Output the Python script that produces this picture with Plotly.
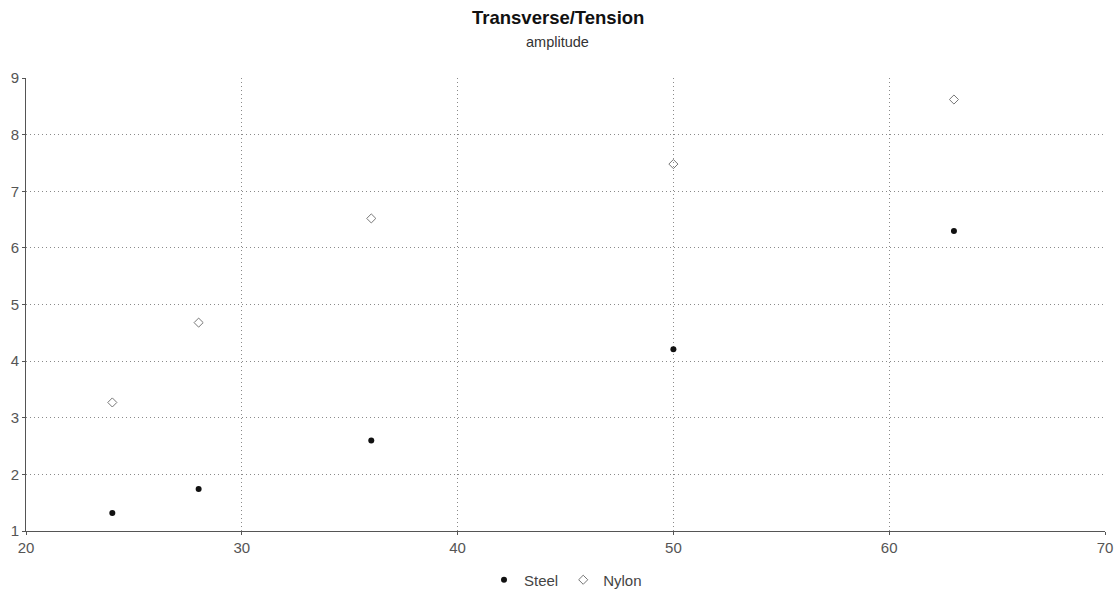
import plotly.graph_objects as go

# Tension values (x) and measured amplitude for each string type
tension = [24, 28, 36, 50, 63]
steel_amplitude = [1.32, 1.74, 2.60, 4.21, 6.30]
nylon_amplitude = [3.27, 4.68, 6.52, 7.48, 8.62]

x_ticks = [20, 30, 40, 50, 60, 70]
y_ticks = [1, 2, 3, 4, 5, 6, 7, 8, 9]

font_family = "Liberation Sans, Arial, sans-serif"

fig = go.Figure()
fig.add_trace(go.Scatter(
    x=tension, y=steel_amplitude, mode="markers", name="Steel",
    marker=dict(symbol="circle", size=6, color="#111111"),
))
fig.add_trace(go.Scatter(
    x=tension, y=nylon_amplitude, mode="markers", name="Nylon",
    marker=dict(symbol="diamond-open", size=7, color="#777777",
                line=dict(width=1, color="#777777")),
))

axis_common = dict(
    showgrid=True, gridcolor="#8a8a8a", griddash="1px,3px", gridwidth=1,
    zeroline=False, showline=True, linecolor="#555555", linewidth=1,
    ticks="outside", ticklen=3, tickcolor="#555555", automargin=False,
    tickfont=dict(family=font_family, size=15, color="#555555"),
)

fig.update_layout(
    width=1114, height=591,
    paper_bgcolor="white", plot_bgcolor="white",
    margin=dict(l=26, r=9, t=78, b=60),
    xaxis=dict(range=[20, 70], tickvals=x_ticks, **axis_common),
    yaxis=dict(range=[1, 9], tickvals=y_ticks, **axis_common),
    showlegend=True,
    legend=dict(orientation="h", x=0.5, xanchor="center",
                yref="container", y=0.0186, yanchor="middle",
                font=dict(family=font_family, size=15, color="#444444")),
    annotations=[
        dict(text="<b>Transverse/Tension</b>", xref="paper", yref="paper",
             x=0.493, y=(531 - 18) / 453, showarrow=False, xanchor="center",
             yanchor="middle",
             font=dict(family=font_family, size=18.5, color="#111111")),
        dict(text="amplitude", xref="paper", yref="paper",
             x=0.493, y=(531 - 42) / 453, showarrow=False, xanchor="center",
             yanchor="middle",
             font=dict(family=font_family, size=14.5, color="#333333")),
    ],
)

fig.write_html("out.html")
